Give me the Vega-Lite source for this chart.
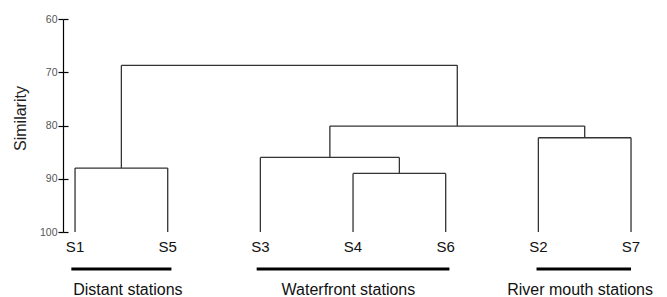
{
  "$schema": "https://vega.github.io/schema/vega-lite/v6.json",
  "autosize": {"type": "none"},
  "padding": {"left": 63, "top": 19, "right": 4, "bottom": 65},
  "width": 600,
  "height": 213,
  "config": {"view": {"stroke": null}, "font": "Liberation Sans"},
  "resolve": {"axis": {"y": "independent"}},
  "datasets": {
    "segments": [
      {"part": "S1 leaf", "x": 0, "x2": 0, "y": 100, "y2": 88},
      {"part": "S5 leaf", "x": 1, "x2": 1, "y": 100, "y2": 88},
      {"part": "S3 leaf", "x": 2, "x2": 2, "y": 100, "y2": 86},
      {"part": "S4 leaf", "x": 3, "x2": 3, "y": 100, "y2": 89},
      {"part": "S6 leaf", "x": 4, "x2": 4, "y": 100, "y2": 89},
      {"part": "S2 leaf", "x": 5, "x2": 5, "y": 100, "y2": 82.3},
      {"part": "S7 leaf", "x": 6, "x2": 6, "y": 100, "y2": 82.3},
      {"part": "S1-S5 join", "x": 0, "x2": 1, "y": 88, "y2": 88},
      {"part": "S4-S6 join", "x": 3, "x2": 4, "y": 89, "y2": 89},
      {"part": "S3-(S4,S6) join", "x": 2, "x2": 3.5, "y": 86, "y2": 86},
      {"part": "S2-S7 join", "x": 5, "x2": 6, "y": 82.3, "y2": 82.3},
      {"part": "Waterfront-River join", "x": 2.75, "x2": 5.5, "y": 80.1, "y2": 80.1},
      {"part": "Top join", "x": 0.5, "x2": 4.125, "y": 68.7, "y2": 68.7},
      {"part": "S1-S5 stem", "x": 0.5, "x2": 0.5, "y": 88, "y2": 68.7},
      {"part": "S4-S6 stem", "x": 3.5, "x2": 3.5, "y": 89, "y2": 86},
      {"part": "Waterfront stem", "x": 2.75, "x2": 2.75, "y": 86, "y2": 80.1},
      {"part": "River stem", "x": 5.5, "x2": 5.5, "y": 82.3, "y2": 80.1},
      {"part": "Waterfront-River stem", "x": 4.125, "x2": 4.125, "y": 80.1, "y2": 68.7}
    ],
    "leaves": [
      {"station": "S1", "pos": 0},
      {"station": "S5", "pos": 1},
      {"station": "S3", "pos": 2},
      {"station": "S4", "pos": 3},
      {"station": "S6", "pos": 4},
      {"station": "S2", "pos": 5},
      {"station": "S7", "pos": 6}
    ],
    "groups": [
      {"group": "Distant stations", "start": -0.04, "end": 1.04, "labelPos": 0.57},
      {"group": "Waterfront stations", "start": 1.96, "end": 4.04, "labelPos": 2.95},
      {"group": "River mouth stations", "start": 4.98, "end": 6.0, "labelPos": 5.45}
    ]
  },
  "layer": [
    {
      "data": {"name": "segments"},
      "mark": {"type": "rule", "color": "#333333", "strokeWidth": 1.3},
      "encoding": {
        "x": {"field": "x", "type": "quantitative", "scale": {"domain": [-0.13, 6.345], "nice": false, "zero": false}, "axis": null},
        "x2": {"field": "x2"},
        "y": {
          "field": "y", "type": "quantitative",
          "scale": {"domain": [60, 100], "reverse": true, "nice": false, "zero": false},
          "axis": {
            "orient": "left",
            "values": [60, 70, 80, 90, 100],
            "grid": false,
            "domainColor": "#000000",
            "domainWidth": 1.2,
            "tickColor": "#000000",
            "tickSize": 5,
            "tickWidth": 1.2,
            "labelFont": "Liberation Sans",
            "labelFontSize": 10.5,
            "labelColor": "#555555",
            "labelPadding": 1,
            "title": "Similarity",
            "titleFont": "Liberation Sans",
            "titleFontSize": 16,
            "titleFontWeight": "normal",
            "titleColor": "#222222",
            "titleAngle": -90,
            "titleAlign": "center",
            "titleBaseline": "middle",
            "titleX": -43,
            "titleY": 99
          }
        },
        "y2": {"field": "y2"}
      }
    },
    {
      "data": {"name": "leaves"},
      "mark": {"type": "text", "fontSize": 15, "font": "Liberation Sans", "color": "#111111", "align": "center", "baseline": "alphabetic"},
      "encoding": {
        "x": {"field": "pos", "type": "quantitative"},
        "y": {"datum": 103.8, "type": "quantitative", "axis": null},
        "text": {"field": "station"}
      }
    },
    {
      "data": {"name": "groups"},
      "mark": {"type": "rule", "color": "#000000", "strokeWidth": 3.2},
      "encoding": {
        "x": {"field": "start", "type": "quantitative"},
        "x2": {"field": "end"},
        "y": {
          "datum": 106.95, "type": "quantitative",
          "axis": {
            "orient": "left",
            "offset": -5,
            "values": [60, 70, 80, 90, 100],
            "grid": false,
            "domain": false,
            "labels": false,
            "ticks": true,
            "tickColor": "#000000",
            "tickSize": 5,
            "tickWidth": 1.2,
            "title": null
          }
        }
      }
    },
    {
      "data": {"name": "groups"},
      "mark": {"type": "text", "fontSize": 16, "font": "Liberation Sans", "color": "#111111", "align": "center", "baseline": "alphabetic"},
      "encoding": {
        "x": {"field": "labelPos", "type": "quantitative"},
        "y": {"datum": 111.8, "type": "quantitative", "axis": null},
        "text": {"field": "group"}
      }
    }
  ]
}
